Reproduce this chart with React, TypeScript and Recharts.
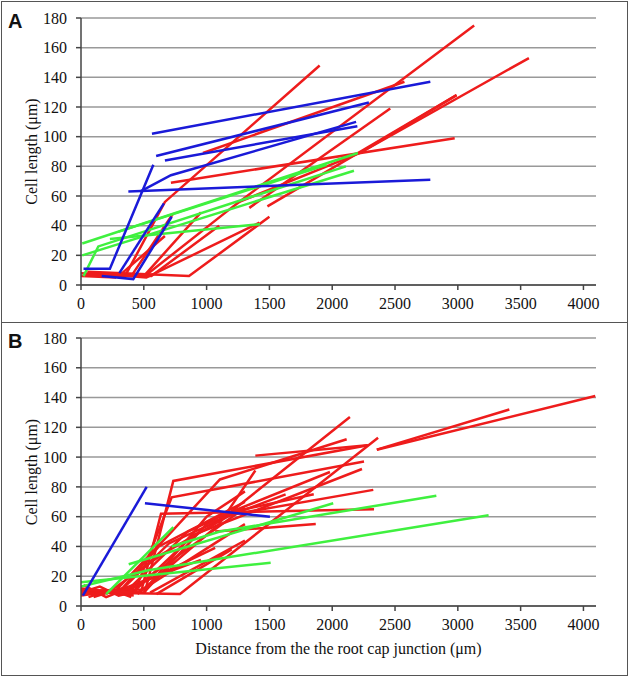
import { LineChart, Line, XAxis, YAxis, CartesianGrid } from 'recharts'

type Pt = [number, number]

const xTicks = [0, 500, 1000, 1500, 2000, 2500, 3000, 3500, 4000]
const yTicks = [0, 20, 40, 60, 80, 100, 120, 140, 160, 180]

// panel A
const redA: Pt[][] = [
  [[0, 8], [350, 6], [668, 56], [1900, 148]],
  [[20, 7], [509, 6], [1212, 53], [3130, 175]],
  [[50, 9], [860, 6], [1500, 46]],
  [[100, 8], [520, 5], [1421, 42]],
  [[150, 7], [560, 6], [1100, 40]],
  [[200, 8], [500, 6], [955, 49]],
  [[60, 7], [400, 6], [732, 48]],
  [[300, 6], [668, 33]],
  [[1484, 53], [2990, 128]],
  [[716, 69], [2975, 99]],
  [[1230, 55], [2221, 89], [3566, 153]],
  [[2221, 89], [2990, 128]],
  [[971, 89], [2575, 137]],
  [[1340, 52], [2462, 119]],
  [[0, 6], [280, 5]],
]
const blueA: Pt[][] = [
  [[20, 11], [230, 11], [576, 81]],
  [[565, 102], [2781, 137]],
  [[598, 87], [2292, 123]],
  [[668, 84], [2200, 107]],
  [[470, 63], [716, 74], [2190, 110]],
  [[377, 63], [2781, 71]],
  [[305, 8], [660, 55]],
  [[165, 6], [416, 4], [722, 46]],
]
const greenA: Pt[][] = [
  [[10, 28], [2205, 89]],
  [[10, 20], [2173, 77]],
  [[20, 6], [138, 26], [2109, 80]],
  [[230, 31], [1425, 41]],
  [[300, 36], [1956, 81]],
]

// panel B
const redB: Pt[][] = [
  [[0, 9], [508, 9], [735, 84], [2285, 108]],
  [[0, 8], [430, 10], [722, 73], [2253, 97]],
  [[0, 10], [483, 11], [637, 62], [2333, 65]],
  [[58, 9], [788, 8], [2365, 113]],
  [[2355, 105], [4094, 141]],
  [[2355, 105], [3410, 132]],
  [[1388, 101], [2280, 108]],
  [[250, 8], [700, 48], [1106, 85], [2115, 112]],
  [[300, 9], [700, 42], [1116, 58], [2141, 127]],
  [[1068, 50], [1869, 55]],
  [[350, 9], [850, 50], [1106, 60], [2327, 78]],
  [[400, 8], [900, 48], [2237, 92]],
  [[500, 9], [1000, 55], [1629, 75]],
  [[200, 8], [650, 35], [1250, 64], [1853, 75]],
  [[450, 8], [1100, 55], [1388, 91]],
  [[300, 8], [1068, 39]],
  [[250, 9], [955, 31]],
  [[350, 8], [1305, 66]],
  [[450, 9], [1305, 55]],
  [[550, 9], [1305, 44]],
  [[600, 8], [1200, 38]],
  [[300, 9], [620, 40], [1305, 70]],
  [[500, 10], [1000, 60], [1305, 77]],
  [[1100, 60], [1982, 90]],
  [[0, 12], [300, 8]],
  [[0, 7], [350, 11]],
  [[50, 11], [420, 7]],
  [[100, 6], [330, 12]],
  [[0, 9], [150, 13], [300, 7], [450, 10]],
  [[20, 14], [200, 6], [380, 12]],
  [[0, 11], [250, 10], [420, 9]],
  [[60, 6], [240, 11], [400, 6]],
]
const blueB: Pt[][] = [
  [[15, 7], [523, 80]],
  [[509, 69], [1504, 60]],
]
const greenB: Pt[][] = [
  [[0, 16], [1510, 29]],
  [[0, 13], [536, 24], [3245, 61]],
  [[200, 8], [735, 53]],
  [[722, 40], [1106, 50], [2829, 74]],
  [[380, 28], [2008, 69]],
]

const RED = '#ee1c1c'
const BLUE = '#1a1ad8'
const GREEN = '#3ff03f'
const font = '"Liberation Serif", "Times New Roman", serif'

function XTick({ x, y, payload }: any) {
  return (
    <text x={x} y={y} dy="0.71em" textAnchor="middle" fontFamily={font} fontSize={16} fill="#111">
      {payload.value}
    </text>
  )
}

function YTick({ x, y, payload }: any) {
  return (
    <text x={x} y={y} dy="0.355em" textAnchor="end" fontFamily={font} fontSize={16} fill="#111">
      {payload.value}
    </text>
  )
}

interface PanelProps {
  letter: string
  top: number
  height: number
  marginTop: number
  marginBottom: number
  red: Pt[][]
  green: Pt[][]
  blue: Pt[][]
  xLabel?: string
}

function Panel({ letter, top, height, marginTop, marginBottom, red, green, blue, xLabel }: PanelProps) {
  const groups: [Pt[][], string, string][] = [[red, RED, 'r'], [green, GREEN, 'g'], [blue, BLUE, 'b']]
  return (
    <div style={{ position: 'absolute', left: 0, top, width: 630, height }}>
      <div style={{
        position: 'absolute', left: 8, top: marginTop - 8, fontFamily: '"Liberation Sans", Arial, sans-serif',
        fontWeight: 'bold', fontSize: 20, color: '#111',
      }}>{letter}</div>
      <LineChart width={630} height={height} margin={{ top: marginTop, right: 34, left: 21, bottom: marginBottom }}>
        <CartesianGrid vertical={false} stroke="#999" strokeWidth={1.5} />
        <XAxis
          type="number" dataKey="x" domain={[0, 4100]} ticks={xTicks} allowDataOverflow
          height={30} tickSize={5} tickMargin={8} stroke="#444" strokeWidth={1.5}
          tick={<XTick />}
          label={xLabel ? { value: xLabel, position: 'bottom', offset: 7, style: { fontSize: 16, fontFamily: font, fill: '#111' } } : undefined}
        />
        <YAxis
          type="number" dataKey="y" domain={[0, 180]} ticks={yTicks} allowDataOverflow
          width={60} tickSize={5} tickMargin={9} stroke="#444" strokeWidth={1.5}
          tick={<YTick />}
          label={{ value: 'Cell length (μm)', angle: -90, position: 'insideLeft', offset: 10, style: { textAnchor: 'middle', fontSize: 16, fontFamily: font, fill: '#111' } }}
        />
        {groups.map(([lines, color, k]) =>
          lines.map((pts, i) => (
            <Line
              key={k + i}
              data={pts.map(([x, y]) => ({ x, y }))}
              dataKey="y"
              stroke={color}
              strokeWidth={2.5}
              dot={false}
              activeDot={false}
              isAnimationActive={false}
            />
          )),
        )}
      </LineChart>
    </div>
  )
}

export default function App() {
  return (
    <div style={{ position: 'absolute', left: 0, top: 0, width: 630, height: 677, background: '#fff' }}>
      <div style={{ position: 'absolute', left: 1, top: 1, width: 625, height: 673, border: '1.5px solid #555' }} />
      <div style={{ position: 'absolute', left: 1, top: 322, width: 627, height: 0, borderTop: '1.5px solid #555' }} />
      <Panel letter="A" top={0} height={322} marginTop={18} marginBottom={7} red={redA} green={greenA} blue={blueA} />
      <Panel
        letter="B" top={320} height={357} marginTop={18} marginBottom={41}
        red={redB} green={greenB} blue={blueB}
        xLabel="Distance from the the root cap junction (μm)"
      />
    </div>
  )
}
